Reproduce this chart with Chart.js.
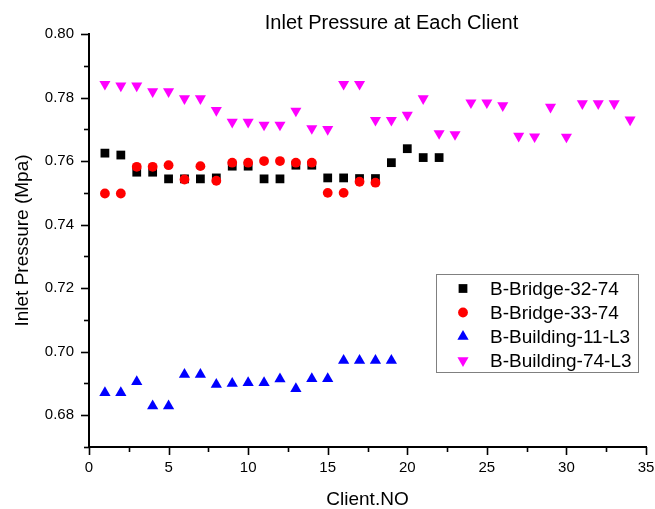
<!DOCTYPE html>
<html>
<head>
<meta charset="utf-8">
<title>Inlet Pressure at Each Client</title>
<script src="https://cdn.jsdelivr.net/npm/chart.js@4.4.1/dist/chart.umd.min.js"></script>
<style>
    html, body { margin: 0; padding: 0; background: #fff; }
    #wrap { width: 655px; height: 509px; }
</style>
</head>
<body>
<div id="wrap"><canvas id="chart" width="655" height="509"></canvas></div>
<script>
// Client numbers and inlet pressures (MPa)
const clientsBridge32 = [1, 2, 3, 4, 5, 6, 7, 8, 9, 10, 11, 12, 13, 14, 15, 16, 17, 18, 19, 20, 21, 22];
const bridge32 = [0.7625, 0.7619, 0.7565, 0.7565, 0.7544, 0.7544, 0.7544, 0.7547, 0.7584, 0.7584, 0.7544,
    0.7544, 0.7587, 0.7587, 0.7547, 0.7547, 0.7545, 0.7545, 0.7595, 0.7639, 0.7611, 0.7611];

const clientsBridge33 = [1, 2, 3, 4, 5, 6, 7, 8, 9, 10, 11, 12, 13, 14, 15, 16, 17, 18];
const bridge33 = [0.7498, 0.7498, 0.7582, 0.7582, 0.7587, 0.7542, 0.7584, 0.7538, 0.7595, 0.7595, 0.7600,
    0.7600, 0.7595, 0.7595, 0.7500, 0.7500, 0.7535, 0.7532];

const clientsBuilding11 = [1, 2, 3, 4, 5, 6, 7, 8, 9, 10, 11, 12, 13, 14, 15, 16, 17, 18, 19];
const building11 = [0.6871, 0.6871, 0.6905, 0.6829, 0.6829, 0.6928, 0.6928, 0.6897, 0.6900, 0.6902, 0.6902,
    0.6914, 0.6883, 0.6915, 0.6915, 0.6972, 0.6972, 0.6972, 0.6972];

const clientsBuilding74 = [1, 2, 3, 4, 5, 6, 7, 8, 9, 10, 11, 12, 13, 14, 15, 16, 17, 18, 19, 20, 21, 22,
    23, 24, 25, 26, 27, 28, 29, 30, 31, 32, 33, 34];
const building74 = [0.7842, 0.7837, 0.7837, 0.7819, 0.7819, 0.7797, 0.7797, 0.7760, 0.7723, 0.7723, 0.7714,
    0.7714, 0.7758, 0.7703, 0.7700, 0.7842, 0.7842, 0.7729, 0.7729, 0.7745, 0.7797, 0.7687, 0.7684, 0.7784,
    0.7784, 0.7775, 0.7679, 0.7677, 0.7770, 0.7676, 0.7781, 0.7781, 0.7781, 0.7730];

const seriesNames = ['B-Bridge-32-74', 'B-Bridge-33-74', 'B-Building-11-L3', 'B-Building-74-L3'];

const FONT = '"Liberation Sans", Arial, sans-serif';

function toPoints(xs, ys) {
    return xs.map((x, i) => ({ x: x, y: ys[i] }));
}

// Origin style tick marks: longer on labelled values, shorter in between
const axisTicks = {
    id: 'axisTicks',
    afterDraw(chart) {
        const { ctx, chartArea, scales } = chart;
        ctx.save();
        ctx.strokeStyle = '#000';
        ctx.lineWidth = 1.6;
        scales.y.ticks.forEach(t => {
            const py = Math.round(scales.y.getPixelForValue(t.value)) + 0.5;
            const major = Math.round(t.value * 100) % 2 === 0;
            ctx.beginPath();
            ctx.moveTo(chartArea.left, py);
            ctx.lineTo(chartArea.left - (major ? 8 : 5), py);
            ctx.stroke();
        });
        scales.x.ticks.forEach(t => {
            const px = Math.round(scales.x.getPixelForValue(t.value)) + 0.5;
            const major = t.value % 5 === 0;
            ctx.beginPath();
            ctx.moveTo(px, chartArea.bottom);
            ctx.lineTo(px, chartArea.bottom + (major ? 8 : 5));
            ctx.stroke();
        });
        ctx.restore();
    }
};

const titleText = {
    id: 'titleText',
    afterDraw(chart) {
        const ctx = chart.ctx;
        ctx.save();
        ctx.fillStyle = '#000';
        ctx.font = '20px ' + FONT;
        ctx.textAlign = 'center';
        ctx.textBaseline = 'alphabetic';
        ctx.fillText('Inlet Pressure at Each Client', 391.5, 29);
        ctx.restore();
    }
};

// boxed legend inside the plot, like the original
const boxLegend = {
    id: 'boxLegend',
    afterDraw(chart) {
        const ctx = chart.ctx;
        const left = 436, top = 274, w = 202, h = 98;
        ctx.save();
        ctx.strokeStyle = '#808080';
        ctx.lineWidth = 1;
        ctx.strokeRect(left + 0.5, top + 0.5, w, h);
        ctx.font = '19px ' + FONT;
        ctx.textBaseline = 'middle';
        ctx.textAlign = 'left';
        chart.data.datasets.forEach((ds, i) => {
            const y = top + 14.5 + i * 24;
            ctx.fillStyle = ds.backgroundColor;
            ctx.strokeStyle = ds.backgroundColor;
            Chart.helpers.drawPoint(ctx, {
                pointStyle: ds.pointStyle,
                radius: ds.pointRadius,
                rotation: ds.rotation || 0,
                borderWidth: 0
            }, 463, y);
            ctx.fillStyle = '#000';
            ctx.fillText(ds.label, 490, y + 1);
        });
        ctx.restore();
    }
};

const ctx = document.getElementById('chart').getContext('2d');
new Chart(ctx, {
    type: 'scatter',
    data: {
        datasets: [
            {
                label: seriesNames[0],
                data: toPoints(clientsBridge32, bridge32),
                pointStyle: 'rect',
                pointRadius: 6.2,
                backgroundColor: '#000000',
                borderColor: '#000000',
                borderWidth: 0,
                order: 2
            },
            {
                label: seriesNames[1],
                data: toPoints(clientsBridge33, bridge33),
                pointStyle: 'circle',
                pointRadius: 4.9,
                backgroundColor: '#ff0000',
                borderColor: '#ff0000',
                borderWidth: 0,
                order: 1
            },
            {
                label: seriesNames[2],
                data: toPoints(clientsBuilding11, building11),
                pointStyle: 'triangle',
                pointRadius: 6.5,
                backgroundColor: '#0000ff',
                borderColor: '#0000ff',
                borderWidth: 0,
                order: 3
            },
            {
                label: seriesNames[3],
                data: toPoints(clientsBuilding74, building74),
                pointStyle: 'triangle',
                rotation: 180,
                pointRadius: 6.4,
                backgroundColor: '#ff00ff',
                borderColor: '#ff00ff',
                borderWidth: 0,
                order: 4
            }
        ]
    },
    options: {
        responsive: false,
        animation: false,
        events: [],
        layout: { padding: { top: 34, right: 9, bottom: 0, left: 0 } },
        plugins: {
            legend: { display: false },
            title: { display: false },
            tooltip: { enabled: false }
        },
        scales: {
            x: {
                type: 'linear',
                min: 0,
                max: 35,
                afterFit: s => {
                    s.height = 62;
                    // keep the label padding from shrinking the plot
                    s.paddingLeft = 0;
                    s.paddingRight = 0;
                },
                grid: { display: false, drawTicks: false },
                border: { display: true, color: '#000', width: 2 },
                ticks: {
                    stepSize: 2.5,
                    autoSkip: false,
                    maxRotation: 0,
                    padding: 12,
                    color: '#000',
                    font: { family: FONT, size: 15 },
                    callback: v => (v % 5 === 0 ? String(v) : '')
                },
                title: {
                    display: true,
                    text: 'Client.NO',
                    color: '#000',
                    font: { family: FONT, size: 19, lineHeight: 1 },
                    padding: { top: 0, bottom: 0 }
                }
            },
            y: {
                type: 'linear',
                min: 0.67,
                max: 0.80,
                afterFit: s => { s.width = 89; },
                grid: { display: false, drawTicks: false },
                border: { display: true, color: '#000', width: 2 },
                ticks: {
                    stepSize: 0.01,
                    autoSkip: false,
                    padding: 15,
                    color: '#000',
                    font: { family: FONT, size: 15 },
                    callback: v => (Math.round(v * 100) % 2 === 0 ? v.toFixed(2) : '')
                },
                title: {
                    display: true,
                    text: 'Inlet Pressure (Mpa)',
                    color: '#000',
                    font: { family: FONT, size: 19, lineHeight: 1 },
                    padding: { top: 13, bottom: 0 }
                }
            }
        }
    },
    plugins: [axisTicks, titleText, boxLegend]
});
</script>
</body>
</html>
